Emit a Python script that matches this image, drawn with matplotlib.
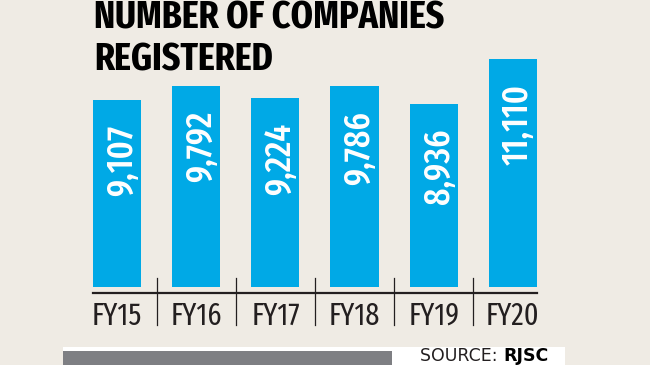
import matplotlib
matplotlib.use("Agg")
import matplotlib.pyplot as plt
from matplotlib.patches import Rectangle
from matplotlib.lines import Line2D

categories = ["FY15", "FY16", "FY17", "FY18", "FY19", "FY20"]
values = [9107, 9792, 9224, 9786, 8936, 11110]
value_labels = ["9,107", "9,792", "9,224", "9,786", "8,936", "11,110"]
title_lines = ["NUMBER OF COMPANIES", "REGISTERED"]
source_regular = "SOURCE: "
source_bold = "RJSC"

BG = "#EFEBE4"
BLUE = "#00A9E6"
DARK = "#231F20"
GRAY = "#7E7F83"
COND = ["Fira Sans Extra Condensed", "DejaVu Sans"]

W, H = 650, 365
fig = plt.figure(figsize=(W / 100, H / 100), dpi=100, facecolor=BG)

def fx(px):
    return px / W

def fy(py):
    return 1 - py / H

PT = 0.72  # points per pixel at 100 dpi

pitch = 79.0
px_per_unit = 187.0 / 9107
ax_left, ax_right = 92.7, 536.9
ax_top, ax_bot = 40.0, 287.0
ax = fig.add_axes([fx(ax_left), fy(ax_bot), (ax_right - ax_left) / W, (ax_bot - ax_top) / H])
ax.set_facecolor("none")
ax.set_xlim(-0.308, 5.304)
ax.set_ylim(0, (ax_bot - ax_top) / px_per_unit)
for s in ax.spines.values():
    s.set_visible(False)
ax.set_xticks([])
ax.set_yticks([])

x = list(range(len(categories)))
bw = 48 / pitch
ax.bar(x, values, width=bw, color=BLUE, zorder=2)

# value labels inside bars
for xi, v, lab in zip(x, values, value_labels):
    ax.annotate(lab, xy=(xi, v), xytext=(5 * PT, -25 * PT), textcoords="offset points",
                rotation=90, ha="center", va="top", color="white",
                fontsize=26.5, family=COND, fontweight=500, zorder=3)

u = lambda p: p / px_per_unit
ax.add_line(Line2D([-0.308, 5.304], [-u(6.4), -u(6.4)], color=DARK, lw=1.6, clip_on=False))
for xs in [i + 0.5 for i in range(len(categories) - 1)]:
    ax.add_line(Line2D([xs, xs], [u(9.4), -u(38)], color=DARK, lw=0.9, clip_on=False))

for xi, c in zip(x, categories):
    ax.text(xi, -u(38), c, ha="center", va="baseline", fontsize=22, family=COND,
            color=DARK, clip_on=False)

fig.text(fx(94), fy(28.5), title_lines[0], ha="left", va="baseline", fontsize=28,
         family=COND, fontweight="bold", color="black")
fig.text(fx(94), fy(70.3), title_lines[1], ha="left", va="baseline", fontsize=28,
         family=COND, fontweight="bold", color="black")

fig.patches.append(Rectangle((fx(62.7), 0), fx(565) - fx(62.7), (365 - 346.7) / H,
                             transform=fig.transFigure, facecolor="white", edgecolor="none", zorder=0))
fig.patches.append(Rectangle((fx(62.7), 0), fx(392) - fx(62.7), (365 - 350.7) / H,
                             transform=fig.transFigure, facecolor=GRAY, edgecolor="none", zorder=1))
t1 = fig.text(fx(420), fy(365), source_regular, ha="left", va="bottom", fontsize=12.5,
              family="DejaVu Sans", color=DARK)
fig.canvas.draw()
bb = t1.get_window_extent()
fig.text(bb.x1 / W, fy(365), source_bold, ha="left", va="bottom", fontsize=12.5,
         family="DejaVu Sans", fontweight="bold", color="black")

fig.savefig("out.png", dpi=100, facecolor=BG)
